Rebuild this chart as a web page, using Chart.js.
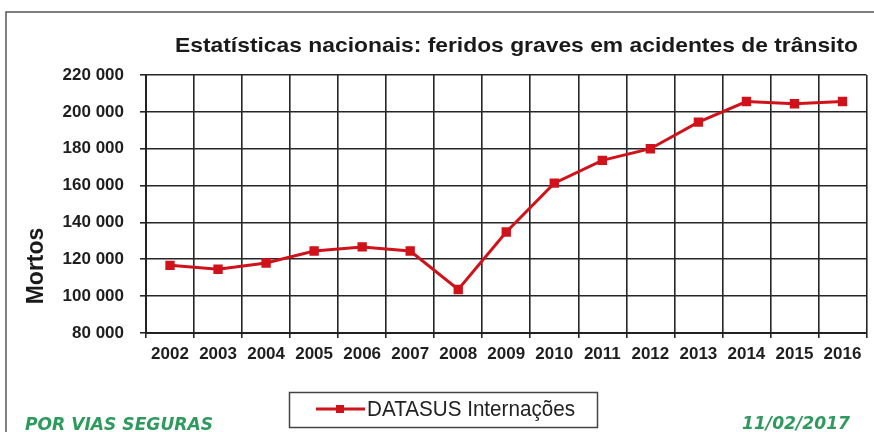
<!DOCTYPE html>
<html>
<head>
<meta charset="utf-8">
<script src="https://cdn.jsdelivr.net/npm/chart.js@4"></script>
<style>
  html, body { margin: 0; padding: 0; background: #fff; }
  #wrap { width: 874px; height: 432px; }
</style>
</head>
<body>
<div id="wrap"><canvas id="chart" width="874" height="432"></canvas></div>
<script>
// values
const years = ['2002','2003','2004','2005','2006','2007','2008','2009','2010','2011','2012','2013','2014','2015','2016'];
const internacoes = [116700, 114600, 118000, 124500, 126700, 124500, 103600, 134800, 161300, 173700, 180000, 194400, 205600, 204400, 205600];
const seriesLabel = 'DATASUS Internações';
const chartTitle = 'Estatísticas nacionais: feridos graves em acidentes de trânsito';
const yTitle = 'Mortos';
const footLeft = 'POR VIAS SEGURAS';
const footRight = '11/02/2017';

const RED = '#d0121b';
const GREEN = '#2f9a5e';

// squeeze/stretch text so it fills a given width
function fitText(ctx, text, x, y, w) {
  const m = ctx.measureText(text).width;
  ctx.save();
  ctx.translate(x, y);
  ctx.scale(w / m, 1);
  ctx.fillText(text, 0, 0);
  ctx.restore();
}

const extras = {
  id: 'extras',
  afterDraw(chart) {
    const ctx = chart.ctx;
    ctx.save();
    // outer frame
    ctx.strokeStyle = '#555';
    ctx.lineWidth = 1.5;
    ctx.beginPath();
    ctx.moveTo(6, 440);
    ctx.lineTo(6, 12);
    ctx.lineTo(874, 12);
    ctx.stroke();

    // title
    ctx.fillStyle = '#1a1a1a';
    ctx.font = 'bold 21px "Liberation Sans", Arial, sans-serif';
    ctx.textBaseline = 'alphabetic';
    ctx.textAlign = 'left';
    fitText(ctx, chartTitle, 175, 52, 683);

    // y axis title
    ctx.save();
    ctx.translate(43, 266);
    ctx.rotate(-Math.PI / 2);
    ctx.font = 'bold 23px "Liberation Sans", Arial, sans-serif';
    ctx.textAlign = 'center';
    ctx.textBaseline = 'alphabetic';
    ctx.fillText(yTitle, 0, 0);
    ctx.restore();

    // legend box
    ctx.strokeStyle = '#444';
    ctx.lineWidth = 1.5;
    ctx.strokeRect(289.5, 392.5, 308, 35);
    ctx.strokeStyle = RED;
    ctx.lineWidth = 3;
    ctx.beginPath();
    ctx.moveTo(316, 409);
    ctx.lineTo(365, 409);
    ctx.stroke();
    ctx.fillStyle = RED;
    ctx.fillRect(336, 405, 8, 8);
    ctx.fillStyle = '#222';
    ctx.font = '22px "Liberation Sans", Arial, sans-serif';
    ctx.textBaseline = 'middle';
    fitText(ctx, seriesLabel, 367, 410, 208);

    // footer texts
    ctx.fillStyle = GREEN;
    ctx.textBaseline = 'alphabetic';
    ctx.font = 'italic bold 18px "DejaVu Sans", sans-serif';
    fitText(ctx, footLeft, 25, 430, 188);
    fitText(ctx, footRight, 742, 429, 108);
    ctx.restore();
  }
};

new Chart(document.getElementById('chart'), {
  type: 'line',
  data: {
    labels: years,
    datasets: [{
      label: seriesLabel,
      data: internacoes,
      borderColor: RED,
      backgroundColor: RED,
      borderWidth: 3,
      tension: 0,
      pointStyle: 'rect',
      pointRadius: 4.5,
      pointBackgroundColor: RED,
      pointBorderColor: RED
    }]
  },
  options: {
    responsive: false,
    animation: false,
    layout: { padding: { top: 75, right: 6, left: 0, bottom: 0 } },
    plugins: {
      legend: { display: false },
      title: { display: false },
      tooltip: { enabled: false }
    },
    scales: {
      x: {
        offset: true,
        grid: { offset: true, color: '#262626', lineWidth: 1.6, tickLength: 5 },
        border: { color: '#222', width: 2 },
        ticks: {
          color: '#1e1e1e',
          font: { family: '"Liberation Sans", Arial, sans-serif', size: 17, weight: 'bold' },
          padding: 6,
          maxRotation: 0,
          autoSkip: false
        },
        afterFit(scale) { scale.height = 99; }
      },
      y: {
        min: 80000,
        max: 220000,
        grid: { color: '#262626', lineWidth: 1.6, tickLength: 6 },
        border: { color: '#222', width: 2 },
        ticks: {
          stepSize: 20000,
          color: '#1e1e1e',
          font: { family: '"Liberation Sans", Arial, sans-serif', size: 17, weight: 'bold' },
          padding: 16,
          callback: v => String(v).replace(/\B(?=(\d{3})+(?!\d))/g, ' ')
        },
        afterFit(scale) { scale.width = 146; }
      }
    }
  },
  plugins: [extras]
});
</script>
</body>
</html>
